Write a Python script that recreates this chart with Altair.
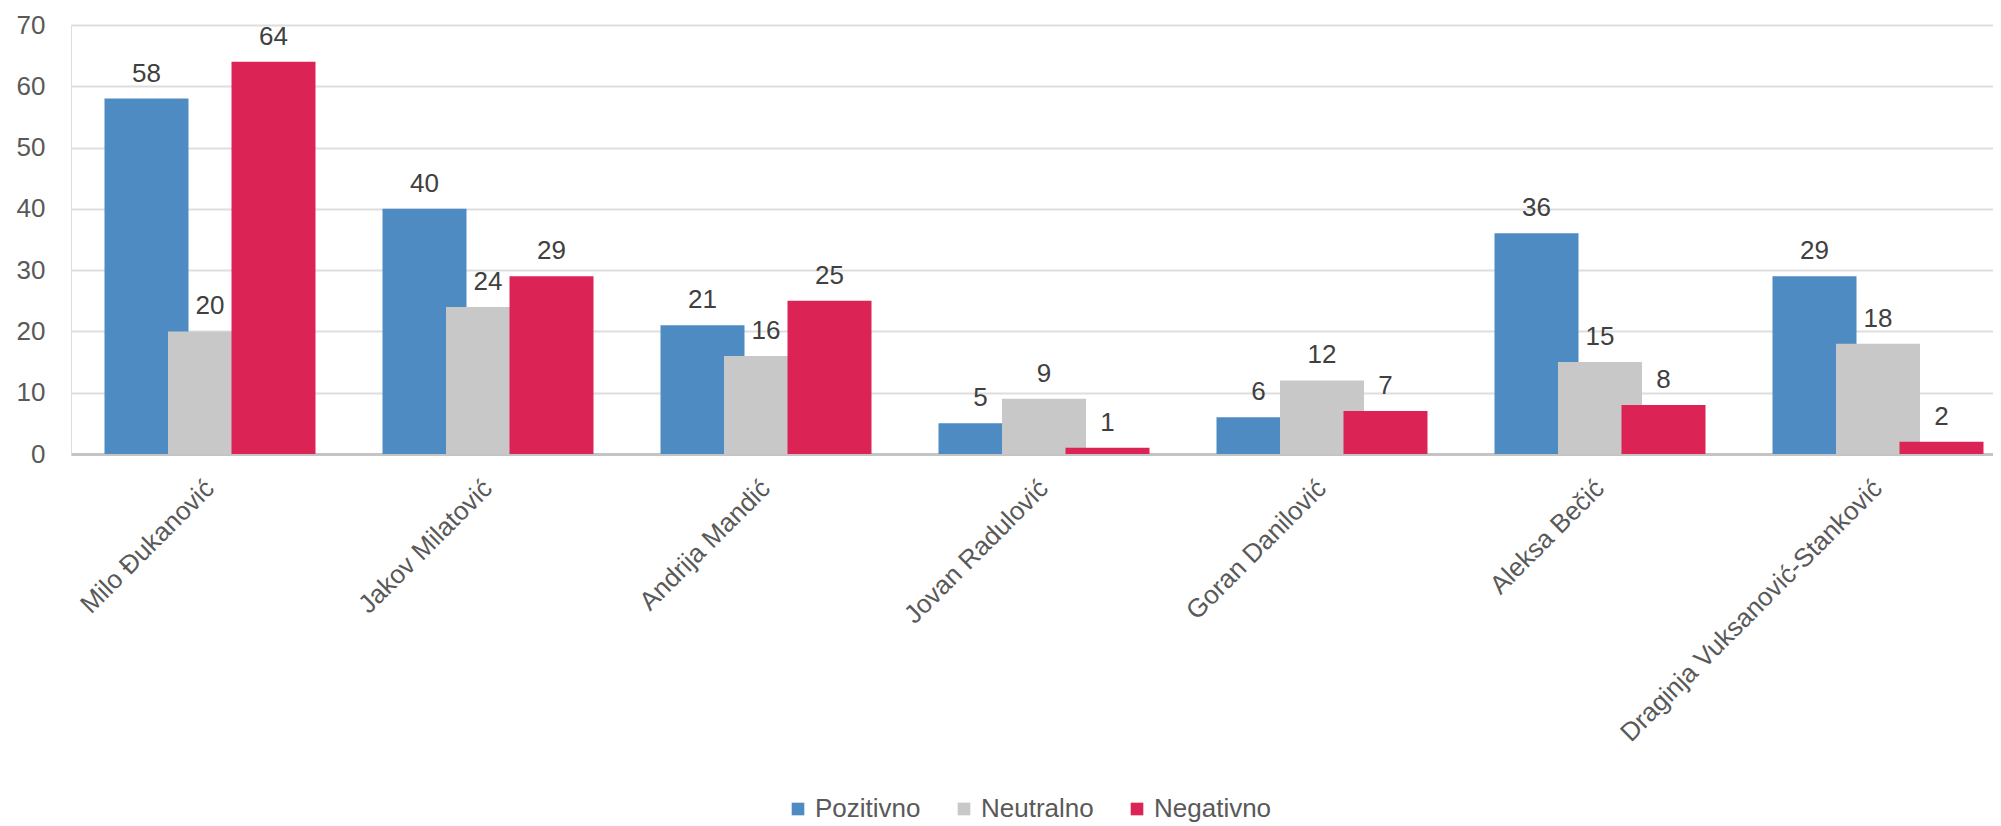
import altair as alt
import pandas as pd

candidates = [
    "Milo Đukanović",
    "Jakov Milatović",
    "Andrija Mandić",
    "Jovan Radulović",
    "Goran Danilović",
    "Aleksa Bečić",
    "Draginja Vuksanović-Stanković",
]
series = ["Pozitivno", "Neutralno", "Negativno"]
pozitivno = [58, 40, 21, 5, 6, 36, 29]
neutralno = [20, 24, 16, 9, 12, 15, 18]
negativno = [64, 29, 25, 1, 7, 8, 2]
colors = ["#4F8BC3", "#C8C8C8", "#DB2455"]
y_ticks = [0, 10, 20, 30, 40, 50, 60, 70]

rows = []
for i, c in enumerate(candidates):
    for s, vals in zip(series, [pozitivno, neutralno, negativno]):
        rows.append({"Kandidat": c, "Serija": s, "Vrijednost": vals[i]})
df = pd.DataFrame(rows)

FONT = "Liberation Sans"

x_enc = alt.X(
    "Kandidat:N",
    sort=candidates,
    scale=alt.Scale(range=[0, 1946], paddingInner=0, paddingOuter=0),
    axis=alt.Axis(
        title=None,
        labelAngle=-45,
        labelAlign="right",
        labelBaseline="middle",
        labelFontSize=26,
        labelFont=FONT,
        labelColor="#595959",
        labelPadding=30,
        labelLimit=0,
        ticks=False,
        domain=True,
        domainColor="#C4C4C4",
        domainWidth=3,
        grid=False,
    ),
)
xoff = alt.XOffset(
    "Serija:N",
    sort=series,
    scale=alt.Scale(paddingOuter=0.689, paddingInner=0),
)
y_enc = alt.Y(
    "Vrijednost:Q",
    scale=alt.Scale(domain=[0, 70], nice=False),
    axis=alt.Axis(
        title=None,
        values=y_ticks,
        labelFontSize=26,
        labelFont=FONT,
        labelColor="#595959",
        labelPadding=26,
        ticks=False,
        domain=False,
        gridColor="#DEDEDE",
        gridWidth=2,
    ),
)
color_enc = alt.Color(
    "Serija:N",
    sort=series,
    scale=alt.Scale(domain=series, range=colors),
    legend=alt.Legend(
        title=None,
        orient="none",
        direction="horizontal",
        legendX=714,
        legendY=771,
        symbolType="square",
        symbolSize=160,
        symbolStrokeWidth=0,
        symbolOpacity=1,
        labelFontSize=26,
        labelFont=FONT,
        labelColor="#595959",
        labelOffset=4,
        columnPadding=30,
        padding=0,
    ),
)

bars = alt.Chart(df).mark_bar(width=84, opacity=1).encode(
    x=x_enc, xOffset=xoff, y=y_enc, color=color_enc
)

labels = alt.Chart(df).mark_text(
    baseline="alphabetic", dy=-17, fontSize=26, font=FONT, color="#404040"
).encode(
    x=alt.X("Kandidat:N", sort=candidates),
    xOffset=alt.XOffset("Serija:N", sort=series),
    y="Vrijednost:Q",
    text="Vrijednost:Q",
)

chart = (
    alt.layer(bars, labels)
    .properties(
        width=1922,
        height=429,
        autosize=alt.AutoSizeParams(type="none"),
        padding={"left": 63, "top": 17, "right": 0, "bottom": 372},
    )
    .configure_view(stroke=None)
    .configure(background="white")
)

chart.save("out.html", embed_options={"renderer": "svg", "actions": False})
